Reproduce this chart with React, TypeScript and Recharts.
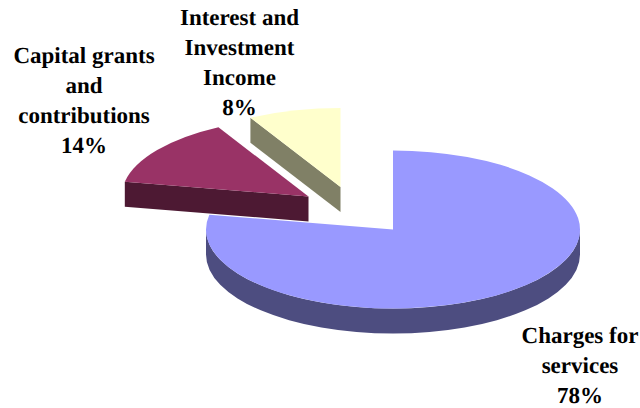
import React from "react";
import { PieChart, Pie } from "recharts";

const categories = ["Charges for services", "Capital grants and contributions", "Interest and Investment Income"];
const shares = [78, 14, 8];
const labelLines = [
  ["Charges for", "services"],
  ["Capital grants", "and", "contributions"],
  ["Interest and", "Investment", "Income"],
];

const topColors = ["#9999FF", "#993366", "#FFFFCC"];
const sideColors = ["#4D4D80", "#4D1933", "#808066"];
// how far each slice is pulled out of the pie, in px
const offsetX = [0, -84.5, -52.5];
const offsetY = [0, -33, -42.5];
// first line baseline and centre of each label
const labelX = [580, 84, 239.5];
const labelY = [343, 63, 25];

const SQUASH = 79 / 187;
const DEPTH = 25;
const LINE_HEIGHT = 30;
const RAD = Math.PI / 180;

const data = categories.map((name, i) => ({ name, value: shares[i], index: i }));

function Slice3D(props: any) {
  const { cx, cy, outerRadius: r, startAngle, endAngle, payload } = props;
  const i = payload.index;
  const ox = cx + offsetX[i];
  const oy = cy + offsetY[i];
  const ry = r * SQUASH;
  const px = (a: number) => ox + r * Math.cos(a * RAD);
  const py = (a: number) => oy - ry * Math.sin(a * RAD);

  const top =
    `M${ox},${oy} L${px(startAngle)},${py(startAngle)} ` +
    `A${r},${ry} 0 ${Math.abs(endAngle - startAngle) > 180 ? 1 : 0} 1 ${px(endAngle)},${py(endAngle)} Z`;

  const sides: string[] = [];
  // radial cut faces, only those turned towards the viewer
  if (Math.sin((startAngle + 90) * RAD) < -0.001) {
    sides.push(
      `M${ox},${oy} L${px(startAngle)},${py(startAngle)} L${px(startAngle)},${py(startAngle) + DEPTH} L${ox},${oy + DEPTH} Z`,
    );
  }
  if (Math.sin((endAngle - 90) * RAD) < -0.001) {
    sides.push(
      `M${ox},${oy} L${px(endAngle)},${py(endAngle)} L${px(endAngle)},${py(endAngle) + DEPTH} L${ox},${oy + DEPTH} Z`,
    );
  }
  // outer wall: the part of the arc on the lower half of the ellipse
  const from = Math.min(startAngle, 0);
  const to = Math.max(endAngle, -180);
  if (from > to) {
    sides.push(
      `M${px(from)},${py(from)} A${r},${ry} 0 0 1 ${px(to)},${py(to)} ` +
        `L${px(to)},${py(to) + DEPTH} A${r},${ry} 0 0 0 ${px(from)},${py(from) + DEPTH} Z`,
    );
  }

  return (
    <g>
      {sides.map((d, k) => (
        <path key={k} d={d} fill={sideColors[i]} />
      ))}
      <path d={top} fill={topColors[i]} />
    </g>
  );
}

function SliceLabel(props: any) {
  const i = props.index;
  const lines = [...labelLines[i], `${shares[i]}%`];
  return (
    <text
      textAnchor="middle"
      fontFamily="'Liberation Serif', serif"
      fontWeight="bold"
      fontSize={23}
      fill="#000000"
      style={{ textRendering: "geometricPrecision" }}
    >
      {lines.map((line, k) => (
        <tspan key={k} x={labelX[i]} y={labelY[i] + k * LINE_HEIGHT}>
          {line}
        </tspan>
      ))}
    </text>
  );
}

export default function App() {
  return (
    <div style={{ position: "absolute", left: 0, top: 0, width: 640, height: 408, background: "#FFFFFF" }}>
      <PieChart width={640} height={408} margin={{ top: 0, right: 0, bottom: 0, left: 0 }}>
        <Pie
          data={data}
          dataKey="value"
          nameKey="name"
          cx={393}
          cy={229.5}
          innerRadius={0}
          outerRadius={187}
          startAngle={90}
          endAngle={-270}
          stroke="none"
          shape={Slice3D}
          label={SliceLabel}
          labelLine={false}
          isAnimationActive={false}
        />
      </PieChart>
    </div>
  );
}
